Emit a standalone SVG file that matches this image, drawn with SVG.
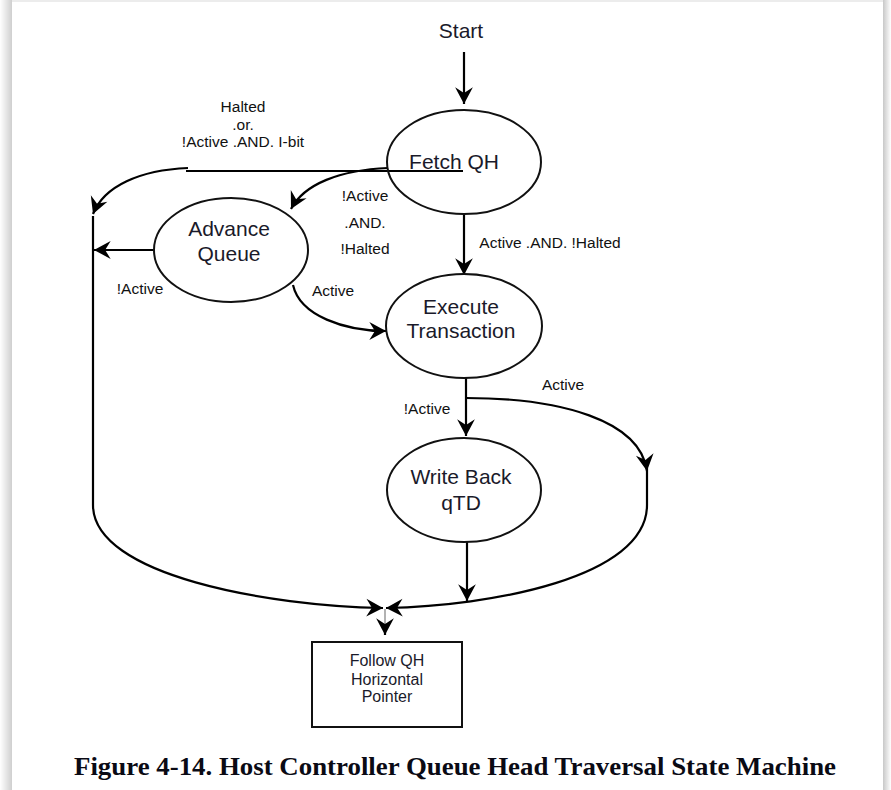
<svg xmlns="http://www.w3.org/2000/svg" width="891" height="790" viewBox="0 0 891 790">
<defs>
<linearGradient id="shL" x1="0" y1="0" x2="1" y2="0"><stop offset="0" stop-color="#ffffff"/><stop offset="1" stop-color="#cfcfcf"/></linearGradient>
<linearGradient id="shR" x1="0" y1="0" x2="1" y2="0"><stop offset="0" stop-color="#c8c8c8"/><stop offset="1" stop-color="#ffffff"/></linearGradient>
<marker id="arr" markerUnits="userSpaceOnUse" markerWidth="20" markerHeight="20" viewBox="-16 -9 18 18" refX="0" refY="0" orient="auto">
<path d="M0,0 L-15,-8 L-10,0 L-15,8 Z" fill="#000"/>
</marker>
</defs>
<style>
.n{fill:#fff;stroke:#111;stroke-width:2}
.c{fill:none;stroke:#000;stroke-width:2.2}
.t{font-family:"Liberation Sans",Arial,sans-serif;font-size:21px;fill:#1a1a2a;text-anchor:middle}
.l{font-family:"Liberation Sans",Arial,sans-serif;font-size:15.5px;fill:#111;text-anchor:middle}
.s{font-family:"Liberation Sans",Arial,sans-serif;font-size:16px;fill:#1a1a2a;text-anchor:middle}
</style>
<rect x="0" y="0" width="891" height="790" fill="#fff"/>
<rect x="0" y="0" width="12" height="790" fill="url(#shL)"/>
<rect x="883" y="0" width="8" height="790" fill="url(#shR)"/>
<rect x="12" y="0" width="871" height="2" fill="#ececec"/>

<g id="connectors">
<path class="c" d="M464,52 L464,104" marker-end="url(#arr)"/>
<path class="c" d="M186,171 L463,171" stroke-width="2"/>
<path class="c" d="M188,168 C140,170 104,186 93,214" marker-end="url(#arr)"/>
<path class="c" d="M388,168 C340,170 304,184 291,209" marker-end="url(#arr)"/>
<path class="c" d="M464,214 L464,275" marker-end="url(#arr)"/>
<path class="c" d="M154,250 L94,250" marker-end="url(#arr)"/>
<path class="c" d="M293,285 C300,316 345,331 386,331" marker-end="url(#arr)"/>
<path class="c" d="M466,378 L466,436" marker-end="url(#arr)"/>
<path class="c" d="M466,398 C560,398 640,420 647,471" marker-end="url(#arr)"/>
<path class="c" d="M647,468 L647,505 C647,578 490,606 386,608" marker-end="url(#arr)"/>
<path class="c" d="M93,216 L93,505 C93,576 270,606 383,608" marker-end="url(#arr)"/>
<path class="c" d="M467,542 L467,601" marker-end="url(#arr)"/>
<path d="M385,609 L385,626" stroke="#999" stroke-width="1.5" fill="none"/>
<path class="c" d="M385,624 L385,635" stroke-width="0.5" marker-end="url(#arr)"/>
</g>

<g id="start"><text class="t" x="461" y="38">Start</text></g>

<g id="fetch">
<ellipse class="n" cx="464" cy="162" rx="77" ry="52" style="fill:none"/>
<text class="t" x="454" y="169">Fetch QH</text>
</g>

<g id="advance">
<ellipse class="n" cx="231" cy="250" rx="77" ry="52"/>
<text class="t" x="229" y="236">Advance</text>
<text class="t" x="229" y="261">Queue</text>
</g>

<g id="execute">
<ellipse class="n" cx="464" cy="326" rx="78" ry="52"/>
<text class="t" x="461" y="314">Execute</text>
<text class="t" x="461" y="338">Transaction</text>
</g>

<g id="writeback">
<ellipse class="n" cx="464" cy="490" rx="77" ry="52"/>
<text class="t" x="461" y="484">Write Back</text>
<text class="t" x="461" y="510">qTD</text>
</g>

<g id="follow">
<rect class="n" x="312" y="642" width="150" height="85"/>
<text class="s" x="387" y="666">Follow QH</text>
<text class="s" x="387" y="685">Horizontal</text>
<text class="s" x="387" y="702">Pointer</text>
</g>

<g id="labels">
<text class="l" x="243" y="112">Halted</text>
<text class="l" x="243" y="130">.or.</text>
<text class="l" x="243" y="147">!Active .AND. I-bit</text>
<text class="l" x="365" y="201">!Active</text>
<text class="l" x="365" y="228">.AND.</text>
<text class="l" x="365" y="254">!Halted</text>
<text class="l" x="550" y="248">Active .AND. !Halted</text>
<text class="l" x="140" y="294">!Active</text>
<text class="l" x="333" y="296">Active</text>
<text class="l" x="563" y="390">Active</text>
<text class="l" x="427" y="414">!Active</text>
</g>

<g id="caption">
<text x="455" y="775" text-anchor="middle" font-family="'Liberation Serif','Times New Roman',serif" font-weight="bold" font-size="25" fill="#0a0a14" textLength="762" lengthAdjust="spacingAndGlyphs">Figure 4-14. Host Controller Queue Head Traversal State Machine</text>
</g>
</svg>
